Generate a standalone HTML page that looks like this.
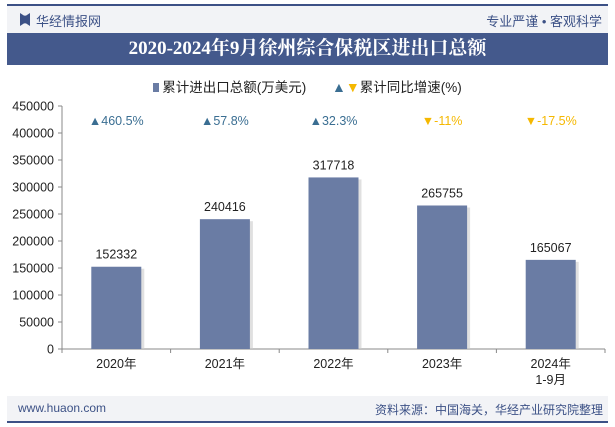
<!DOCTYPE html>
<html><head><meta charset="utf-8">
<style>
body{margin:0;width:615px;height:427px;background:#fff;font-family:"Liberation Sans","Noto Sans CJK SC",sans-serif;overflow:hidden;position:relative}
.a{position:absolute}
</style></head><body>
<div class="a" style="left:7px;top:4px;width:601px;height:2px;background:#3c5186"></div>
<div class="a" style="left:7px;top:6px;width:601px;height:27px;background:#f2f3f6"></div>
<div class="a" style="left:20px;top:13px;width:10px;height:13px;background:#3c5186;clip-path:polygon(0 0,40% 20%,60% 20%,100% 0,100% 100%,60% 80%,40% 80%,0 100%)"></div>
<div class="a" style="left:36px;top:11px;font-size:13px;color:#3c5186">华经情报网</div>
<div class="a" style="right:13px;top:11px;font-size:13px;color:#3c5186">专业严谨 • 客观科学</div>
<div class="a" style="left:7px;top:33px;width:601px;height:32px;background:#44598c;color:#fff;font-family:'Liberation Serif','Noto Serif CJK SC',serif;font-weight:bold;font-size:19px;text-align:center;line-height:32px">2020-2024年9月徐州综合保税区进出口总额</div>
<div class="a" style="left:0;width:615px;top:76px;font-size:13.5px;color:#222;text-align:center">
<span><span style="display:inline-block;width:6px;height:9px;background:#6a7ca4;margin-right:3px"></span>累计进出口总额(万美元)</span>
<span style="margin-left:22px"><span style="color:#3a6e92;font-size:14px">▲</span><span style="color:#f5b800;font-size:14px">▼</span>累计同比增速(%)</span></div>
<svg class="a" style="left:0;top:0" width="615" height="427">
<g id="g"></g></svg>
<div class="a" style="left:7px;top:396px;width:601px;height:25px;background:#f2f3f6"></div>
<div class="a" style="left:18px;top:401px;font-size:12px;color:#3c5186">www.huaon.com</div>
<div class="a" style="right:12px;top:401px;font-size:12px;color:#3c5186">资料来源：中国海关，华经产业研究院整理</div>
<div class="a" style="left:7px;top:421px;width:601px;height:2px;background:#3c5186"></div>
<script>
const categories=["2020年","2021年","2022年","2023年","2024年\n1-9月"];
const totals=[152332,240416,317718,265755,165067];
const growth=[460.5,57.8,32.3,-11,-17.5];
const growthLabels=["460.5%","57.8%","32.3%","-11%","-17.5%"];
const ticks=[0,50000,100000,150000,200000,250000,300000,350000,400000,450000];
const NS="http://www.w3.org/2000/svg",g=document.getElementById('g');
const x0=62,x1=605,y0=349,y1=106,maxV=450000;
const cw=(x1-x0)/categories.length;
const y=v=>y0-(v/maxV)*(y0-y1);
const cx=i=>x0+cw*(i+0.5);
function mk(t,a,txt){const e=document.createElementNS(NS,t);for(const k in a)e.setAttribute(k,a[k]);if(txt!=null)e.textContent=txt;g.appendChild(e);return e;}
let e=mk('line',{x1:x0,y1:y0,x2:x1,y2:y0,stroke:'#888'});

e=mk('line',{x1:x0,y1:y1,x2:x0,y2:y0,stroke:'#888'});

ticks.forEach(t=>{
 mk('line',{x1:x0-4,y1:y(t),x2:x0,y2:y(t),stroke:'#888'});
 e=mk('text',{x:x0-8,y:y(t)+4.5,'text-anchor':'end','font-size':12.5,fill:'#222'},t);
 
});
for(let i=0;i<=categories.length;i++)mk('line',{x1:x0+cw*i,y1:y0,x2:x0+cw*i,y2:y0+4,stroke:'#888'});
categories.forEach((c,i)=>{
 const bw=50;
 mk('rect',{x:cx(i)-bw/2+3,y:y(totals[i])+2,width:bw,height:y0-y(totals[i])-2,fill:'#ccc',opacity:0.6});
 e=mk('rect',{x:cx(i)-bw/2,y:y(totals[i]),width:bw,height:y0-y(totals[i]),fill:'#6a7ca4'});
 
 e=mk('text',{x:cx(i),y:y(totals[i])-8,'text-anchor':'middle','font-size':12.5,fill:'#222'},totals[i]);
 
 const up=growth[i]>=0;
 e=mk('text',{x:cx(i),y:125,'text-anchor':'middle','font-size':12.5,fill:up?'#3a6e92':'#f5b800'},(up?'▲':'▼')+growthLabels[i]);
 
 c.split('\n').forEach((ln,j)=>{
  e=mk('text',{x:cx(i),y:368+j*16,'text-anchor':'middle','font-size':12.5,fill:'#222'},ln);
  
 });
});
</script>
</body></html>
